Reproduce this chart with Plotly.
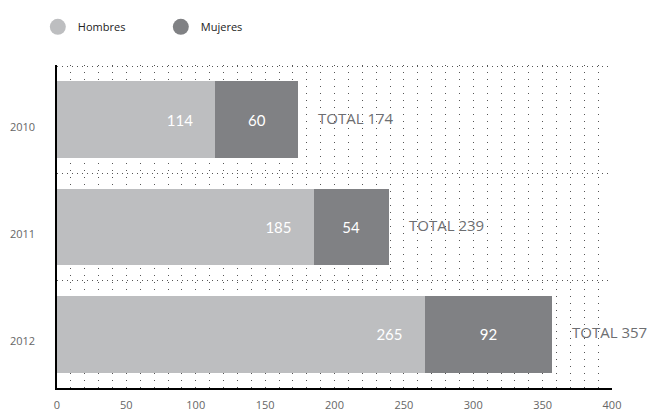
import plotly.graph_objects as go

years = ["2010", "2011", "2012"]
hombres = [114, 185, 265]
mujeres = [60, 54, 92]
totals = [174, 239, 357]
x_ticks = [0, 50, 100, 150, 200, 250, 300, 350, 400]

c_h = "#bdbec0"
c_m = "#808184"
ypos = list(range(len(years)))
pad = "\u00a0" * 5

fig = go.Figure()
fig.add_trace(go.Bar(
    y=ypos, x=hombres, orientation="h", marker=dict(color=c_h, line=dict(width=0)),
    width=0.716, name="Hombres", showlegend=False,
    text=[f"{v}{pad}" for v in hombres], textposition="inside", insidetextanchor="end",
    textfont=dict(color="white", size=15, family="Lato"), hoverinfo="skip",
))
fig.add_trace(go.Bar(
    y=ypos, x=mujeres, orientation="h", marker=dict(color=c_m, line=dict(width=0)),
    width=0.716, name="Mujeres", showlegend=False,
    text=[str(v) for v in mujeres], textposition="inside", insidetextanchor="middle",
    textfont=dict(color="white", size=15, family="Lato"), hoverinfo="skip",
))
for name, col in [("Hombres", c_h), ("Mujeres", c_m)]:
    fig.add_trace(go.Scatter(x=[None], y=[None], mode="markers", name=name,
                             marker=dict(color=col, size=16, symbol="circle")))

for i, t in enumerate(totals):
    fig.add_annotation(x=t, y=ypos[i], text=f"TOTAL {t}", showarrow=False,
                       xanchor="left", xshift=18, yshift=2,
                       font=dict(size=15, color="#6d6e71", family="Open Sans"))

fig.update_layout(
    width=652, height=411, barmode="stack", bargap=0.284,
    margin=dict(l=57, r=40, t=65, b=23),
    plot_bgcolor="white", paper_bgcolor="white",
    font=dict(family="Open Sans", color="#555"),
    legend=dict(orientation="h", xref="container", yref="container", x=0.058, y=0.97,
                xanchor="left", yanchor="top", font=dict(size=11, color="#222"),
                traceorder="normal", entrywidth=78, bgcolor="rgba(0,0,0,0)"),
    xaxis=dict(range=[0, 400], tickvals=x_ticks, showline=True, linecolor="black", linewidth=1.5,
               showgrid=True, gridcolor="#555", griddash="1px,6px", gridwidth=1,
               minor=dict(dtick=10, tick0=0, showgrid=True, gridcolor="#555", griddash="1px,6px", gridwidth=1),
               zeroline=False, automargin=False, ticklabelstandoff=6,
               tickfont=dict(size=11, color="#666")),
    yaxis=dict(range=[2.5, -0.51], tickvals=ypos, ticktext=years, showline=True, linecolor="black",
               linewidth=1.5, showgrid=False, zeroline=False, automargin=False,
               minor=dict(tickvals=[-0.5, 0.5, 1.5], showgrid=True, gridcolor="#555",
                          griddash="1px,4px", gridwidth=1),
               ticklabelstandoff=18, ticklabelshift=-7, tickfont=dict(size=11, color="#666")),
)
fig.write_html("out.html")
